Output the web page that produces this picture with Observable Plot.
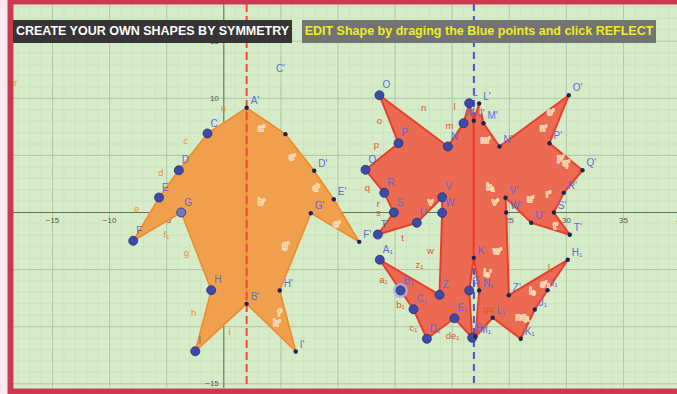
<!DOCTYPE html>
<html><head><meta charset="utf-8">
<script src="https://cdn.jsdelivr.net/npm/d3@7"></script>
<script src="https://cdn.jsdelivr.net/npm/@observablehq/plot@0.6"></script>
<style>
html,body{margin:0;padding:0;background:#fde9f1;}
#wrap{position:relative;width:677px;height:394px;overflow:hidden;}
.box{position:absolute;top:20px;height:23px;line-height:23px;font-family:"Liberation Sans",Arial,sans-serif;font-weight:bold;font-size:12.5px;white-space:nowrap;text-align:center;}
#t1{left:13px;width:279px;background:#353535;color:#ffffff;}
#t2{left:302px;width:354px;background:#737373;color:#eeee22;}
</style></head><body><div id="wrap"></div>
<script>
// ---------- data ----------
const mirrorX = [2, 21.9];

const orangeLeftNames  = ["A","C","D","E","F","G","H","I","B"];
const orangeLeftX      = [2,-1.43,-3.94,-5.67,-7.93,-3.73,-1.10,-2.50,2];
const orangeLeftY      = [9.17,6.92,3.70,1.31,-2.48,0,-6.80,-12.15,-8.0];
const orangeLeftFree   = [0,1,1,1,1,1,1,1,0];
const orangeLeftLabels = ["","C","D","E","F","G","H","I",""];

const orangeRightNames  = ["A'","C'","D'","E'","F'","G'","H'","I'","B'"];
const orangeRightX      = [2,5.40,7.92,9.63,11.86,7.62,4.90,6.30,2];
const orangeRightY      = [9.17,6.86,3.65,1.16,-2.57,-0.06,-6.83,-12.17,-8.0];
const orangeRightLabels = ["A'","","D'","E'","F'","G'","H'","I'","B'"];

const redLeftNames  = ["J","L","M","N","O","P","Q","R","S","T","U","V","W","Z","A₁","B₁","C₁","D₁","E₁","F₁","G₁","K"];
const redLeftX      = [21.89,21.49,20.99,19.62,13.63,15.30,12.41,14.05,14.89,13.49,16.90,19.12,19.12,18.89,13.66,15.47,16.61,17.78,20.20,21.75,21.49,21.89];
const redLeftY      = [8.03,9.57,7.82,5.78,10.27,6.07,3.74,1.72,0,-1.93,-0.90,1.34,-0.03,-7.21,-4.14,-6.83,-8.47,-11.06,-9.26,-10.97,-6.83,-3.97];
const redLeftFree   = [0,1,1,1,1,1,1,1,1,1,1,1,1,1,1,1,1,1,1,1,1,0];
const redLeftLabels = ["","L","M","N","O","P","Q","R","S","T","U","V","W","Z","A₁","B₁","C₁","D₁","E₁","F","G",""];

const redRightNames  = ["J'","L'","M'","N'","O'","P'","Q'","R'","S'","T'","U'","V'","W'","Z'","H₁","I₁","J₁","K₁","L₁","M₁","N₁","K'"];
const redRightX      = [21.89,22.36,22.74,24.14,30.21,28.52,31.41,29.77,28.90,30.30,26.92,24.67,24.73,24.96,30.12,28.35,27.23,26.0,23.55,22.04,22.36,21.89];
const redRightY      = [8.03,9.54,7.82,5.78,10.27,6.07,3.70,1.72,0,-1.95,-0.90,1.29,0,-7.24,-4.14,-6.80,-8.49,-11.06,-9.22,-10.86,-6.83,-3.97];
const redRightLabels = ["J'","L'","M'","N'","O'","P'","Q'","R'","S'","T'","U'","V'","W'","Z'","H₁","I₁","J₁","K₁","L₁","M₁","N₁","K'"];

const selectedNames = ["B₁"];
const lightNames = ["G"];

// free-floating labels
const strayText = ["C'"];
const strayX = [4.96];
const strayY = [12.61];

// segment labels
const orangeSegText = ["a","c","d","e","f₁","g","h","i","r"];
const orangeSegX    = [-0.03,-3.35,-5.54,-7.64,-5.02,-3.27,-2.65,0.50,-18.24];
const orangeSegY    = [9.19,6.30,3.50,0.35,-1.93,-3.50,-8.84,-10.42,11.38];

const redSegText = ["n","l","m","o","p","q","r","s","t","w","z₁","a₁","b₁","c₁","de₁","l₁","gq","l"];
const redSegX    = [17.49,20.2,19.76,13.63,13.37,12.58,13.54,13.54,15.65,18.1,17.14,13.98,15.47,16.61,20.03,28.63,23.18,22.3];
const redSegY    = [9.19,9.28,7.62,8.06,5.95,2.19,0.79,0,-2.19,-3.33,-4.55,-5.87,-8.06,-10.07,-10.77,-4.82,-8.41,-10.2];

const imageSegText = ["a'","c'","d'","b'","e'","g'","f'","h'","v","m'","n'","o'","p'","q'","k₁","v'","u'","r'","t'","w'","i₀'","l₀","s'₁","nq₁","l'"];
const imageSegX    = [3.30,5.99,8.09,3.30,9.89,5.43,4.91,4.65,18.1,22.92,28.0,28.63,29.5,30.0,23.35,23.79,26.86,28.43,29.05,23.97,23.1,27.04,28.17,26.16,22.6];
const imageSegY    = [7.36,4.90,2.19,0.88,-0.96,-2.80,-8.84,-9.63,0.88,6.39,7.44,8.84,4.8,4.3,2.28,0.96,1.23,1.66,-1.14,-3.33,-5.25,-6.83,-6.3,-9.19,9.0];

// axis tick labels
const xTickValues = [-15,-10,-5,5,10,15,20,25,30,35,40];
const yTickValues = [15,10,5,-5,-10,-15];
const majorStep = 5;

// ---------- build ----------
function pts(names, xs, ys, free, labels){
  return names.map((n,i)=>({name:n, x:xs[i], y:ys[i], free:free ? free[i] : 0, label:labels ? labels[i] : ""}));
}
const oL = pts(orangeLeftNames, orangeLeftX, orangeLeftY, orangeLeftFree, orangeLeftLabels);
const oR = pts(orangeRightNames, orangeRightX, orangeRightY, null, orangeRightLabels);
const rL = pts(redLeftNames, redLeftX, redLeftY, redLeftFree, redLeftLabels);
const rR = pts(redRightNames, redRightX, redRightY, null, redRightLabels);
const allPts = [...oL, ...oR, ...rL, ...rR];
const isHidden = d => (d.name==="A"||d.name==="B"||d.name==="J"||d.name==="K");
const freePts = allPts.filter(d=>d.free);
const depPts = allPts.filter(d=>!d.free && !isHidden(d));
const segs = (t,xs,ys)=>t.map((s,i)=>({text:s,x:xs[i],y:ys[i]}));
const oSeg = segs(orangeSegText, orangeSegX, orangeSegY);
const rSeg = segs(redSegText, redSegX, redSegY);
const iSeg = segs(imageSegText, imageSegX, imageSegY);
const stray = segs(strayText, strayX, strayY);

const mL=13, mR=0, mT=4, mB=6;
const k = 11.42, px0 = 223.3, py0 = 212;
const xDom = [(mL-px0)/k, (677-mR-px0)/k];
const yDom = [(py0-(394-mB))/k, (py0-mT)/k];

const font = "Liberation Sans, Arial, sans-serif";
const orangeFill="#f09f4c", orangeStroke="#ee8a2c";
const redFill="#ec6a52", redStroke="#e6402c";

const chart = Plot.plot({
  width:677, height:394,
  marginLeft:mL, marginRight:mR, marginTop:mT, marginBottom:mB,
  x:{domain:xDom, axis:null},
  y:{domain:yDom, axis:null},
  style:{background:"transparent", fontFamily:font, overflow:"visible"},
  marks:[
    Plot.frame({fill:"#d6ebc7", stroke:null}),
    Plot.gridX({interval:1, stroke:"#c2d9b4", strokeOpacity:0.4}),
    Plot.gridY({interval:1, stroke:"#c2d9b4", strokeOpacity:0.4}),
    Plot.gridX({interval:majorStep, stroke:"#a9bea6", strokeOpacity:0.75}),
    Plot.gridY({interval:majorStep, stroke:"#a9bea6", strokeOpacity:0.75}),
    Plot.ruleX([0], {stroke:"#5f785c", strokeWidth:1}),
    Plot.ruleY([0], {stroke:"#5f785c", strokeWidth:1}),
    Plot.text(xTickValues, {x:d=>d, y:0, text:d=>d<0?"\u2212"+(-d):String(d), dy:8, fontSize:8, fill:"#555"}),
    Plot.text(yTickValues, {x:0, y:d=>d, text:d=>d<0?"\u2212"+(-d):String(d), dx:-5, textAnchor:"end", fontSize:8, fill:"#555"}),
    Plot.text([0], {x:0, y:0, text:()=>"0", dx:-8, dy:8, fontSize:8, fill:"#555"}),
    Plot.ruleX([mirrorX[1]], {stroke:"#4a52d2", strokeWidth:2, strokeDasharray:"7,5"}),
    Plot.line(oL, {x:"x", y:"y", curve:"linear-closed", fill:orangeFill, stroke:orangeStroke, strokeWidth:1.5}),
    Plot.line(oR, {x:"x", y:"y", curve:"linear-closed", fill:orangeFill, stroke:orangeStroke, strokeWidth:1.5}),
    Plot.ruleX([mirrorX[0]], {stroke:"#f24c36", strokeWidth:2, strokeDasharray:"8,4"}),
    Plot.line(rL, {x:"x", y:"y", curve:"linear-closed", fill:redFill, stroke:redStroke, strokeWidth:2, strokeLinejoin:"round"}),
    Plot.line(rR, {x:"x", y:"y", curve:"linear-closed", fill:redFill, stroke:redStroke, strokeWidth:2, strokeLinejoin:"round"}),
    Plot.text(oSeg, {x:"x", y:"y", text:"text", fill:"#f28a2a", fontSize:9.5}),
    Plot.text(rSeg, {x:"x", y:"y", text:"text", fill:"#e5532c", fontSize:9.5}),
    Plot.text(iSeg, {x:"x", y:"y", text:"text", fill:"#f0ad6e", stroke:"#fff3dc", strokeWidth:1.6, fontSize:9.5}),
    Plot.dot(freePts.filter(d=>selectedNames.includes(d.name)), {x:"x", y:"y", r:7.5, fill:"#a6b1e6", fillOpacity:0.8, stroke:null}),
    Plot.dot(freePts, {x:"x", y:"y", r:4.5, fill:d=>lightNames.includes(d.name)?"#6d79c6":"#3d4aa8", stroke:"#27307a", strokeWidth:0.8}),
    Plot.dot(depPts, {x:"x", y:"y", r:2.2, fill:"#1d2456", stroke:null}),
    Plot.text(freePts.filter(d=>d.label), {x:"x", y:"y", text:"label", dx:3, dy:-10, textAnchor:"start", fill:"#5a6ed6", fontSize:10}),
    Plot.text(depPts.filter(d=>d.label), {x:"x", y:"y", text:"label", dx:4, dy:-7, textAnchor:"start", fill:"#5a6ed6", fontSize:10}),
    Plot.text(stray, {x:"x", y:"y", text:"text", fill:"#5a6ed6", fontSize:10}),
    Plot.frame({stroke:"#c93a4e", strokeWidth:6, inset:-3, fill:null})
  ]
});
const wrap = document.getElementById("wrap");
wrap.appendChild(chart);
const t1 = document.createElement("div"); t1.className="box"; t1.id="t1"; t1.textContent="CREATE YOUR OWN SHAPES BY SYMMETRY";
const t2 = document.createElement("div"); t2.className="box"; t2.id="t2"; t2.textContent="EDIT Shape by draging the Blue points and click REFLECT";
wrap.appendChild(t1); wrap.appendChild(t2);
</script></body></html>
